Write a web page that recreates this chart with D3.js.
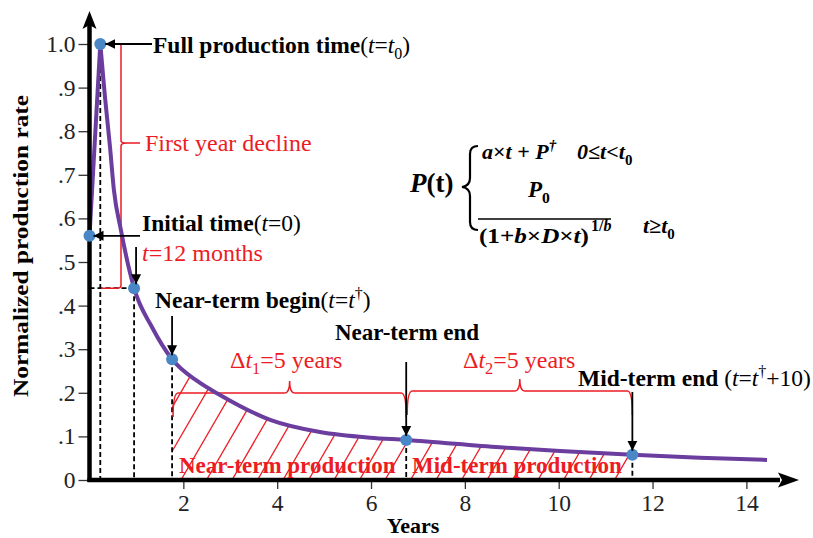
<!DOCTYPE html>
<html>
<head>
<meta charset="utf-8">
<script src="https://cdn.jsdelivr.net/npm/d3@7"></script>
<style>
  html, body { margin: 0; padding: 0; background: #fff; }
  svg { display: block; font-family: "Liberation Serif", "Times New Roman", serif; }
</style>
</head>
<body>
<svg id="chart" width="813" height="538"></svg>
<script>
// Ramp-up phase: initial rate rises linearly to full production
const rampYears = [0, 0.23];
const rampRate  = [0.56, 1.0];

// Decline phase after full production (normalized rate)
const declineYears = [0.23, 0.33, 0.437, 0.52, 0.67, 0.95, 1.33, 1.76, 2.31, 2.78, 3.85, 4.91, 5.98, 6.75, 8.75, 10.03, 11.57, 13.0, 14.44];
const declineRate  = [1.0, 0.878, 0.764, 0.665, 0.573, 0.44, 0.351, 0.277, 0.226, 0.195, 0.138, 0.11, 0.097, 0.092, 0.075, 0.0665, 0.058, 0.051, 0.046];

// Key milestones on the curve
const milestoneNames = ["initial", "full", "month12", "nearBegin", "nearEnd", "midEnd"];
const milestoneYears = [0, 0.23, 0.95, 1.76, 6.75, 11.57];
const milestoneRate  = [0.56, 1.0, 0.44, 0.277, 0.092, 0.058];

// Axis ticks
const xTickValues = [2, 4, 6, 8, 10, 12, 14];
const yTickValues = [0, 0.1, 0.2, 0.3, 0.4, 0.5, 0.6, 0.7, 0.8, 0.9, 1.0];
const yTickLabels = ["0", ".1", ".2", ".3", ".4", ".5", ".6", ".7", ".8", ".9", "1.0"];

const RED = "#ec1c24";
const PURPLE = "#6a3d9e";
const BLUE = "#4a87c6";

const svg = d3.select("#chart");
const x = d3.scaleLinear().domain([0, 15.1]).range([89.5, 798]);
const y = d3.scaleLinear().domain([0, 1]).range([480, 44]);

const rampPts = rampYears.map((t, i) => [t, rampRate[i]]);
const declinePts = declineYears.map((t, i) => [t, declineRate[i]]);
const M = {};
milestoneNames.forEach((n, i) => M[n] = { t: milestoneYears[i], v: milestoneRate[i], px: x(milestoneYears[i]), py: y(milestoneRate[i]) });

// Arrowhead marker
const defs = svg.append("defs");
defs.append("marker").attr("id", "arrow").attr("viewBox", "0 0 10 10")
  .attr("refX", 10).attr("refY", 5).attr("markerWidth", 10).attr("markerHeight", 11)
  .attr("markerUnits", "userSpaceOnUse").attr("orient", "auto")
  .append("path").attr("d", "M0,0 L10,5 L0,10 Z").attr("fill", "#000");

// Hatched production region (near-term + mid-term)
const hatchPts = declinePts.filter(d => d[0] >= M.nearBegin.t - 1e-9 && d[0] <= M.midEnd.t + 1e-9);
const area = d3.area().x(d => x(d[0])).y0(y(0)).y1(d => y(d[1])).curve(d3.curveMonotoneX);
defs.append("clipPath").attr("id", "hatchClip").append("path").attr("d", area(hatchPts));
const hatch = svg.append("g").attr("clip-path", "url(#hatchClip)");
d3.range(130, 720, 25.5).forEach(x0 => {
  hatch.append("line").attr("x1", x0).attr("y1", y(0)).attr("x2", x0 + 0.58 * (y(0) - y(1))).attr("y2", y(1))
    .attr("stroke", RED).attr("stroke-width", 1.3);
});

// Dashed guide lines
const dashed = svg.append("g").attr("stroke", "#000").attr("stroke-width", 1.8).attr("stroke-dasharray", "5,3").attr("fill", "none");
["full", "month12", "nearBegin", "nearEnd", "midEnd"].forEach(k => {
  dashed.append("line").attr("x1", M[k].px).attr("x2", M[k].px).attr("y1", M[k].py).attr("y2", y(0));
});
dashed.append("line").attr("x1", x(0)).attr("x2", M.month12.px).attr("y1", M.month12.py).attr("y2", M.month12.py);

// Red bracket: first year decline
const bx = 121;
svg.append("path").attr("fill", "none").attr("stroke", RED).attr("stroke-width", 1.5)
  .attr("d", `M${bx - 4},${M.full.py} L${bx - 1},${M.full.py} Q${bx},${M.full.py} ${bx},${M.full.py + 3}
              L${bx},${141} Q${bx},${143} ${bx + 6},${143} L${140},${143}
              M${bx + 6},${143} Q${bx},${143} ${bx},${146}
              L${bx},${M.month12.py - 3} Q${bx},${M.month12.py} ${bx - 4},${M.month12.py} L${M.full.px + 1},${M.month12.py}`);

// Curly braces for the Δt intervals
function hbrace(x1, x2, yb, peak, drop) {
  const xm = (x1 + x2) / 2;
  return `M${x1},${yb + drop} Q${x1},${yb} ${x1 + 5},${yb} L${xm - 5},${yb} Q${xm},${yb} ${xm},${yb - peak}
          Q${xm},${yb} ${xm + 5},${yb} L${x2 - 5},${yb} Q${x2},${yb} ${x2},${yb + drop}`;
}
svg.append("path").attr("fill", "none").attr("stroke", RED).attr("stroke-width", 1.5)
  .attr("d", hbrace(M.nearBegin.px + 1, M.nearEnd.px, 393, 12, 24));
svg.append("path").attr("fill", "none").attr("stroke", RED).attr("stroke-width", 1.5)
  .attr("d", hbrace(M.nearEnd.px + 1, M.midEnd.px, 391, 12, 24));

// Production curve
const lineLin = d3.line().x(d => x(d[0])).y(d => y(d[1]));
const lineMono = d3.line().x(d => x(d[0])).y(d => y(d[1])).curve(d3.curveMonotoneX);
svg.append("path").attr("d", lineLin(rampPts)).attr("fill", "none").attr("stroke", PURPLE)
  .attr("stroke-width", 4).attr("stroke-linejoin", "round");
svg.append("path").attr("d", lineMono(declinePts)).attr("fill", "none").attr("stroke", PURPLE)
  .attr("stroke-width", 4).attr("stroke-linejoin", "round");

// Axes with tick labels
const yAxis = d3.axisLeft(y).tickValues(yTickValues).tickSize(11).tickPadding(3)
  .tickFormat((d, i) => yTickLabels[i]);
const gy = svg.append("g").attr("transform", `translate(${x(0)},0)`).call(yAxis);
const xAxis = d3.axisBottom(x).tickValues(xTickValues).tickSize(9).tickPadding(5).tickFormat(d3.format("d"));
const gx = svg.append("g").attr("transform", `translate(0,${y(0)})`).call(xAxis);
[gx, gy].forEach(g => {
  g.select(".domain").remove();
  g.selectAll(".tick line").attr("stroke", "#333").attr("stroke-width", 1.3);
  g.selectAll(".tick text").attr("font-family", "Liberation Serif").attr("font-size", 23.5).attr("fill", "#222");
});

// Thick axis lines with arrow tips
svg.append("line").attr("x1", x(0) - 2).attr("x2", 780).attr("y1", y(0)).attr("y2", y(0)).attr("stroke", "#000").attr("stroke-width", 4.5);
svg.append("path").attr("d", `M799,${y(0)} L778,${y(0) - 7.5} L782,${y(0)} L778,${y(0) + 7.5} Z`).attr("fill", "#000");
svg.append("line").attr("x1", x(0)).attr("x2", x(0)).attr("y1", y(0) + 2).attr("y2", 24).attr("stroke", "#000").attr("stroke-width", 4.5);
svg.append("path").attr("d", `M${x(0)},11 L${x(0) - 7},29 L${x(0)},25 L${x(0) + 7},29 Z`).attr("fill", "#000");

// Milestone points
svg.append("g").selectAll("circle").data(milestoneNames).join("circle")
  .attr("cx", k => M[k].px).attr("cy", k => M[k].py).attr("r", 6).attr("fill", BLUE);

// Annotation arrows
const arrows = svg.append("g").attr("stroke", "#000").attr("stroke-width", 1.8).attr("marker-end", "url(#arrow)");
arrows.append("line").attr("x1", 152).attr("y1", M.full.py).attr("x2", M.full.px + 5).attr("y2", M.full.py);
arrows.append("line").attr("x1", 140).attr("y1", M.initial.py).attr("x2", M.initial.px + 4).attr("y2", M.initial.py);
arrows.append("line").attr("x1", M.month12.px + 2).attr("y1", 247).attr("x2", M.month12.px + 2).attr("y2", M.month12.py - 4);
arrows.append("line").attr("x1", M.nearBegin.px).attr("y1", 316).attr("x2", M.nearBegin.px).attr("y2", M.nearBegin.py - 4);
arrows.append("line").attr("x1", M.nearEnd.px).attr("y1", 362).attr("x2", M.nearEnd.px).attr("y2", M.nearEnd.py - 4);
arrows.append("line").attr("x1", M.midEnd.px).attr("y1", 392).attr("x2", M.midEnd.px).attr("y2", M.midEnd.py - 4);

// Text helper: parts = [text, {bold, italic, sub, sup, back}]
function rich(xp, yp, size, parts, base) {
  const t = svg.append("text").attr("x", xp).attr("y", yp).attr("font-size", size)
    .attr("font-weight", base.bold ? "bold" : "normal").attr("fill", base.fill || "#000");
  parts.forEach(p => {
    const s = t.append("tspan").text(p[0]);
    const o = p[1] || {};
    if (o.italic) s.attr("font-style", "italic");
    if (o.normal) s.attr("font-weight", "normal");
    if (o.bold) s.attr("font-weight", "bold");
    if (o.sub) { s.attr("font-size", size * 0.68).attr("dy", size * 0.25); }
    if (o.sup) { s.attr("font-size", size * 0.68).attr("dy", -size * 0.4); }
    if (o.back) s.attr("dy", o.back);
  });
  return t;
}

const FS = 23.5;
rich(153, 53, FS, [["Full production time"], ["(", { normal: true }], ["t", { normal: true, italic: true }], ["=", { normal: true }],
  ["t", { normal: true, italic: true }], ["0", { normal: true, sub: true }], [")", { normal: true, back: -FS * 0.25 }]], { bold: true });
rich(145, 151, 24, [["First year decline"]], { fill: RED });
rich(142, 231, FS, [["Initial time"], ["(", { normal: true }], ["t", { normal: true, italic: true }], ["=0)", { normal: true }]], { bold: true });
rich(142, 261, 24, [["t", { italic: true }], ["=12 months"]], { fill: RED });
rich(155, 308, FS, [["Near-term begin"], ["(", { normal: true }], ["t", { normal: true, italic: true }], ["=", { normal: true }],
  ["t", { normal: true, italic: true }], ["†", { normal: true, sup: true }], [")", { normal: true, back: FS * 0.4 }]], { bold: true });
rich(230, 368, 24, [["Δ"], ["t", { italic: true }], ["1", { sub: true }], ["=5 years", { back: -24 * 0.25 }]], { fill: RED });
rich(463, 368, 24, [["Δ"], ["t", { italic: true }], ["2", { sub: true }], ["=5 years", { back: -24 * 0.25 }]], { fill: RED });
rich(335, 340, 23, [["Near-term end"]], { bold: true });
rich(578, 386, FS, [["Mid-term end "], ["(", { normal: true }], ["t", { normal: true, italic: true }], ["=", { normal: true }],
  ["t", { normal: true, italic: true }], ["†", { normal: true, sup: true }], ["+10)", { normal: true, back: FS * 0.4 }]], { bold: true });
rich(179, 473, 23, [["Near-term production"]], { bold: true, fill: RED });
rich(412, 473, 23, [["Mid-term production"]], { bold: true, fill: RED });

// Piecewise production model
rich(410, 192, 27, [["P", { italic: true }], ["(t)"]], { bold: true });
svg.append("path").attr("fill", "none").attr("stroke", "#000").attr("stroke-width", 2.2)
  .attr("d", "M478,146 Q470,146 470,154 L470,178 Q470,186 462,187 Q470,188 470,196 L470,222 Q470,230 478,230");
rich(482, 159, 22, [["a", { italic: true }], ["×"], ["t", { italic: true }], [" + "], ["P", { italic: true }], ["†", { italic: true, sup: true }]], { bold: true });
rich(577, 159, 22, [["0≤", { italic: true }], ["t", { italic: true }], ["<", { italic: true }], ["t", { italic: true }], ["0", { sub: true }]], { bold: true });
rich(528, 197, 23, [["P", { italic: true }], ["0", { sub: true }]], { bold: true });
svg.append("line").attr("x1", 478).attr("x2", 611).attr("y1", 219).attr("y2", 219).attr("stroke", "#000").attr("stroke-width", 1.6);
rich(479, 243, 22, [["(1+"], ["b", { italic: true }], ["×"], ["D", { italic: true }], ["×"], ["t", { italic: true }], [")"]], { bold: true })
  .attr("textLength", 110).attr("lengthAdjust", "spacingAndGlyphs");
rich(591, 231, 16, [["1/"], ["b", { italic: true }]], { bold: true });
rich(643, 233, 22, [["t≥", { italic: true }], ["t", { italic: true }], ["0", { sub: true }]], { bold: true });

// Axis titles
svg.append("text").attr("x", 413).attr("y", 533).attr("text-anchor", "middle").attr("font-size", 22)
  .attr("font-weight", "bold").text("Years");
svg.append("text").attr("transform", "translate(28,246) rotate(-90)").attr("text-anchor", "middle")
  .attr("font-size", 22).attr("font-weight", "bold")
  .attr("textLength", 302).attr("lengthAdjust", "spacingAndGlyphs").text("Normalized production rate");
</script>
</body>
</html>
